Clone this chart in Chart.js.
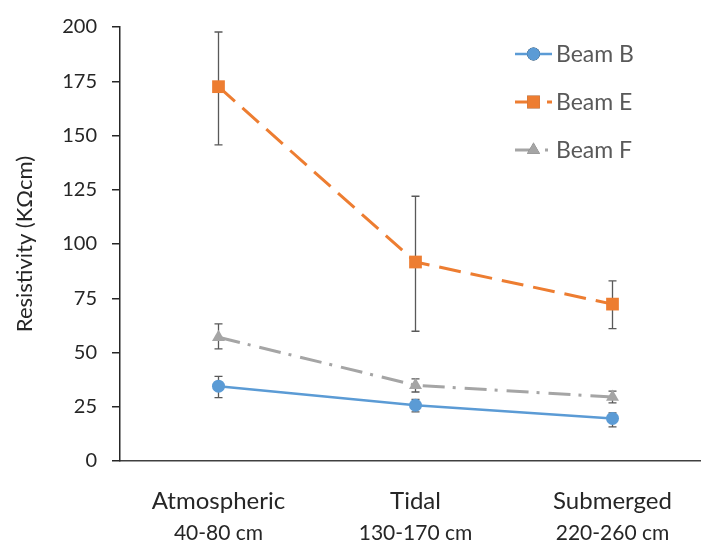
<!DOCTYPE html>
<html>
<head>
<meta charset="utf-8">
<script src="https://cdn.jsdelivr.net/npm/chart.js@4/dist/chart.umd.min.js"></script>
<style>
  html, body { margin: 0; padding: 0; background: #fff; }
  #wrap { width: 701px; height: 543px; overflow: hidden; }
</style>
</head>
<body>
<div id="wrap"><canvas id="myChart" width="720" height="543"></canvas></div>
<script>
// chart data
var zones = ['Atmospheric', 'Tidal', 'Submerged'];
var depths = ['40-80 cm', '130-170 cm', '220-260 cm'];
var seriesNames = ['Beam B', 'Beam E', 'Beam F'];

var beamB = [34.5, 25.7, 19.6];
var beamBLow = [29.2, 22.6, 15.7];
var beamBHigh = [39.0, 28.4, 22.2];

var beamE = [172.5, 91.7, 72.3];
var beamELow = [145.7, 59.8, 61.0];
var beamEHigh = [197.7, 122.0, 83.0];

var beamF = [57.0, 34.9, 29.5];
var beamFLow = [51.7, 31.8, 26.8];
var beamFHigh = [63.2, 37.8, 32.2];

var yTicks = [0, 25, 50, 75, 100, 125, 150, 175, 200];

var fontName = 'Lato, "Open Sans", sans-serif';

// error bars, drawn under the markers
var errorBars = {
    id: 'errorBars',
    beforeDatasetsDraw: function (chart) {
        var ctx = chart.ctx;
        var yScale = chart.scales.y;
        ctx.save();
        ctx.strokeStyle = '#595959';
        ctx.lineWidth = 1.3;
        chart.data.datasets.forEach(function (ds, i) {
            var meta = chart.getDatasetMeta(i);
            meta.data.forEach(function (pt, j) {
                var top = yScale.getPixelForValue(ds.errHigh[j]);
                var bot = yScale.getPixelForValue(ds.errLow[j]);
                ctx.beginPath();
                ctx.moveTo(pt.x, top); ctx.lineTo(pt.x, bot);
                ctx.moveTo(pt.x - 4, top); ctx.lineTo(pt.x + 4, top);
                ctx.moveTo(pt.x - 4, bot); ctx.lineTo(pt.x + 4, bot);
                ctx.stroke();
            });
        });
        ctx.restore();
    }
};

// excel-like legend inside the plot: line + marker + name
var lineLegend = {
    id: 'lineLegend',
    afterDraw: function (chart) {
        var ctx = chart.ctx;
        ctx.save();
        chart.data.datasets.forEach(function (ds, i) {
            var y = 54 + i * 48;
            var x0 = 515, x1 = 552;
            ctx.strokeStyle = ds.borderColor;
            ctx.lineWidth = ds.borderWidth;
            ctx.setLineDash(ds.borderDash || []);
            ctx.beginPath();
            ctx.moveTo(x0, y); ctx.lineTo(x1, y);
            ctx.stroke();
            ctx.setLineDash([]);
            Chart.helpers.drawPoint(ctx, {
                pointStyle: ds.pointStyle, radius: ds.pointRadius,
                borderWidth: 0, rotation: 0
            }, (x0 + x1) / 2, y);
            ctx.fillStyle = ds.backgroundColor;
            ctx.fill();
            ctx.fillStyle = '#595959';
            ctx.font = '23px ' + fontName;
            ctx.textBaseline = 'middle';
            ctx.fillText(ds.label, 556, y + 1);
        });
        ctx.restore();
    }
};

var dataForChart = {
    labels: zones,
    datasets: [
        {
            label: seriesNames[0], data: beamB, errLow: beamBLow, errHigh: beamBHigh,
            borderColor: '#5B9BD5', backgroundColor: '#5B9BD5', borderWidth: 2.5,
            pointStyle: 'circle', pointRadius: 6.5, pointBorderWidth: 0
        },
        {
            label: seriesNames[1], data: beamE, errLow: beamELow, errHigh: beamEHigh,
            borderColor: '#ED7D31', backgroundColor: '#ED7D31', borderWidth: 3,
            borderDash: [22, 10],
            pointStyle: 'rect', pointRadius: 9, pointBorderWidth: 0
        },
        {
            label: seriesNames[2], data: beamF, errLow: beamFLow, errHigh: beamFHigh,
            borderColor: '#A5A5A5', backgroundColor: '#A5A5A5', borderWidth: 3,
            borderDash: [22, 8, 3, 9],
            pointStyle: 'triangle', pointRadius: 7.5, pointBorderWidth: 0
        }
    ]
};

var myChart = new Chart(document.getElementById('myChart'), {
    type: 'line',
    data: dataForChart,
    plugins: [errorBars, lineLegend],
    options: {
        responsive: false,
        animation: false,
        devicePixelRatio: 1,
        layout: { padding: { top: 25, right: 9, bottom: 0, left: 0 } },
        plugins: { legend: { display: false }, tooltip: { enabled: false } },
        scales: {
            x: {
                offset: true,
                weight: 0,
                grid: { display: false, drawTicks: false },
                border: { display: true, color: '#404040', width: 1.5 },
                ticks: {
                    color: '#262626', padding: 26,
                    font: { family: fontName, size: 24, lineHeight: 1.2 },
                    maxRotation: 0
                },
                afterFit: function (s) { s.height = 55; }
            },
            // second line of the category labels (depth range)
            x2: {
                type: 'category',
                position: 'bottom',
                labels: depths,
                offset: true,
                weight: 1,
                grid: { display: false, drawTicks: false },
                border: { display: false },
                ticks: {
                    color: '#262626', padding: 5,
                    font: { family: fontName, size: 21, lineHeight: 1.2 },
                    maxRotation: 0
                },
                afterFit: function (s) { s.height = 27; }
            },
            y: {
                min: 0, max: 200,
                afterBuildTicks: function (s) {
                    s.ticks = yTicks.map(function (v) { return { value: v }; });
                },
                grid: { drawOnChartArea: false, drawTicks: true, tickLength: 8, color: '#262626', lineWidth: 1.5 },
                border: { display: true, color: '#262626', width: 1.5 },
                ticks: {
                    color: '#262626', padding: 15,
                    font: { family: fontName, size: 20 }
                },
                title: {
                    display: true, text: 'Resistivity (KΩcm)', color: '#262626',
                    font: { family: fontName, size: 22 },
                    padding: { top: 12, bottom: 0 }
                },
                afterFit: function (s) { s.width = 120; }
            }
        }
    }
});
</script>
</body>
</html>
